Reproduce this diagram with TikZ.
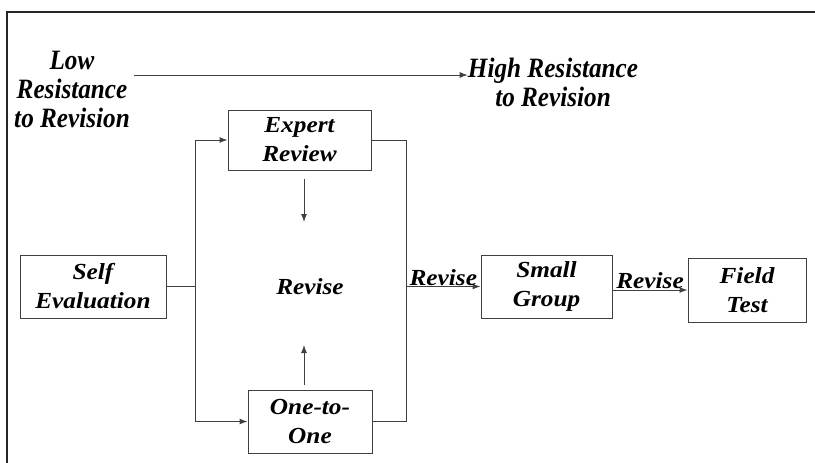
\documentclass[tikz,border=0pt]{standalone}
\usepackage{fontspec}
\setmainfont{Liberation Serif}
\newfontfamily\boxfont[FakeStretch=1.1]{Liberation Serif}
\newfontfamily\narrowfont[FakeStretch=0.9]{Liberation Serif}
\usetikzlibrary{arrows.meta}
\tikzset{
  box/.style={draw=black!75, line width=1pt, align=center, inner sep=0pt,
    font=\boxfont\bfseries\itshape\fontsize{23}{29}\selectfont},
  toplabel/.style={align=center, inner sep=0pt,
    font=\narrowfont\bfseries\itshape\fontsize{28}{29}\selectfont},
  revlabel/.style={inner sep=0.5pt, font=\boxfont\bfseries\itshape\fontsize{23}{26}\selectfont},
  conn/.style={draw=black!75, line width=1pt},
  tip/.style={conn, -{Latex[length=8pt,width=6pt]}},
}
\begin{document}
\begin{tikzpicture}[x=1pt,y=-1pt]
\useasboundingbox (0,0) rectangle (815,463);
% frame
\draw[line width=1.3pt, black!85] (7,463) -- (7,12) -- (815,12);
% top labels
\node[toplabel] (low) at (72,89) {Low\\Resistance\\to Revision};
\node[toplabel] (high) at (553,82) {High Resistance\\to Revision};
\draw[tip] (low.east |- 0,75) ++(4,0) -- (high.west |- 0,75);
% boxes
\node[box, minimum width=143pt, minimum height=60pt] (expert) at (299.5,140) {Expert\\Review};
\node[box, minimum width=146pt, minimum height=63pt] (self) at (93,286.5) {Self\\Evaluation};
\node[box, minimum width=124pt, minimum height=63pt] (one) at (310,421.5) {One-to-\\One};
\node[box, minimum width=131pt, minimum height=63pt] (small) at (546.5,286.5) {Small\\Group};
\node[box, minimum width=118pt, minimum height=64pt] (field) at (747,290) {Field\\Test};
\node[revlabel] (rev) at (310,287) {Revise};
% junction coordinates
\coordinate (jT) at (195,140);
\coordinate (jB) at (195,421.5);
\coordinate (kT) at (406,140);
\coordinate (kB) at (406,421.5);
\coordinate (r1) at (304,222);
\coordinate (r2) at (304,345);
% left fan-out
\draw[conn] (self.east) -- (self.east -| jT);
\draw[conn] (jT) -- (jB);
\draw[tip] (jT) -- (expert.west);
\draw[tip] (jB) -- (one.west);
% revise arrows
\draw[tip] ([shift={(4.5,8)}]expert.south) -- (r1);
\draw[tip] ([shift={(-6,-5)}]one.north) -- (r2);
% right collector
\draw[conn] (expert.east) -- (kT) -- (kB) -- (one.east);
\draw[tip] (kT |- small.west) -- node[revlabel, above] {Revise} (small.west);
\draw[tip] (small.east |- field.west) -- node[revlabel, above] {Revise} (field.west);
\end{tikzpicture}
\end{document}
